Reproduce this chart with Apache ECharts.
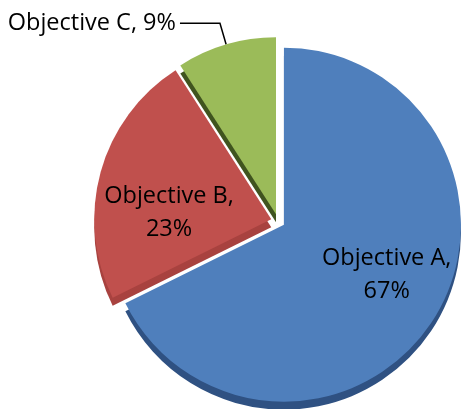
<!DOCTYPE html>
<html>
<head>
<meta charset="utf-8">
<script src="https://cdn.jsdelivr.net/npm/echarts@6/dist/echarts.min.js"></script>
<style>
  html, body { margin: 0; padding: 0; background: #ffffff; }
  #chart { width: 466px; height: 409px; }
</style>
</head>
<body>
<div id="chart"></div>
<script>
// Share of effort per objective (percent)
const categories = ['Objective A', 'Objective B', 'Objective C'];
const shares = [67, 23, 9];

// Top face and side (depth) colours for each slice
const faceColors = ['#4f7fbc', '#c0504d', '#9bbb59'];
const sideColors = ['#2f5182', '#a8423f', '#40541f'];

const pieCenter = [278, 221];
const radius = 177;
const explode = 7;   // how far each slice is pulled out from the centre
const depth = 8;     // thickness of the tilted pie

const total = shares.reduce((a, b) => a + b, 0);
let acc = 0;
// mid-angle of every slice, clockwise from 12 o'clock
const midAngles = shares.map(v => {
  const a = (acc + v / 2) / total * 2 * Math.PI;
  acc += v;
  return a;
});

function sliceCenter(i, dy) {
  return [
    pieCenter[0] + explode * Math.sin(midAngles[i]),
    pieCenter[1] - explode * Math.cos(midAngles[i]) + dy
  ];
}

const font = { fontFamily: 'Open Sans', fontSize: 23.5, color: '#000000' };
const hidden = {
  itemStyle: { color: 'rgba(0,0,0,0)', borderWidth: 0 },
  label: { show: false },
  labelLine: { show: false }
};

// Label settings per slice: the two big slices carry their label inside,
// the small one uses a leader line
function labelFor(i) {
  if (i === 2) {
    return {
      label: Object.assign({ show: true, position: 'outside', formatter: '{b}, {c}%', distanceToLabelLine: 4 }, font),
      labelLine: { show: true, length: 22, length2: 40, smooth: false, lineStyle: { color: '#000000', width: 1.5 } }
    };
  }
  return {
    label: Object.assign({ show: true, position: 'inside', formatter: '{b},\n{c}%', lineHeight: 33, align: 'center' }, font),
    labelLine: { show: false }
  };
}
const insideLabelShift = { 0: [25, 2], 1: [-14, 18] };

const series = [];

// Side faces first, shifted down to read as thickness
shares.forEach((_, i) => {
  series.push({
    type: 'pie',
    z: 1,
    silent: true,
    animation: false,
    startAngle: 90,
    clockwise: true,
    center: sliceCenter(i, depth),
    radius: [0, radius],
    data: categories.map((name, j) => j === i
      ? { name, value: shares[j], itemStyle: { color: sideColors[j] }, label: { show: false }, labelLine: { show: false } }
      : Object.assign({ name, value: shares[j] }, hidden))
  });
});

// Top faces with labels
shares.forEach((_, i) => {
  series.push({
    type: 'pie',
    z: 2,
    silent: true,
    animation: false,
    startAngle: 90,
    clockwise: true,
    avoidLabelOverlap: false,
    center: sliceCenter(i, 0),
    radius: [0, radius],
    emphasis: { disabled: true },
    labelLayout: params => {
      const s = insideLabelShift[params.dataIndex];
      return s ? { dx: s[0], dy: s[1] } : {};
    },
    data: categories.map((name, j) => j === i
      ? Object.assign({ name, value: shares[j], itemStyle: { color: faceColors[j] } }, labelFor(j))
      : Object.assign({ name, value: shares[j] }, hidden))
  });
});

const chart = echarts.init(document.getElementById('chart'), null, { renderer: 'canvas' });
chart.setOption({
  backgroundColor: '#ffffff',
  animation: false,
  series
});
</script>
</body>
</html>
